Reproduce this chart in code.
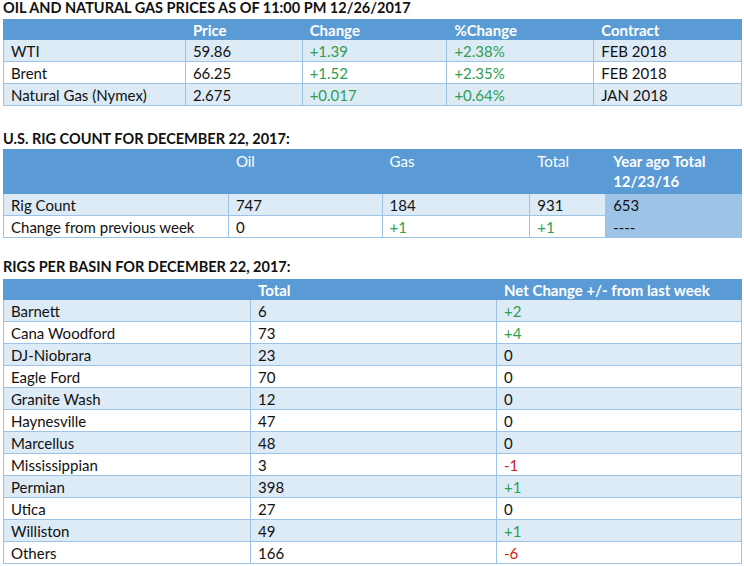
<!DOCTYPE html>
<html><head><meta charset="utf-8">
<script src="https://cdn.jsdelivr.net/npm/chart.js@4"></script>
<style>
body{margin:0;background:#fff;font-family:Lato,"Open Sans","Liberation Sans",sans-serif;width:744px;height:566px;overflow:hidden;position:relative}
.t{position:absolute;left:3px;font-weight:bold;font-size:14.5px;color:#111}
table{position:absolute;left:3px;border-collapse:collapse;font-size:15px;color:#111}
td{border:1px solid #9dc3e6;padding:0 0 0 7px;height:21px;line-height:20px;white-space:nowrap}
th{background:#5b9bd5;color:#fff;text-align:left;font-weight:bold;padding:0 0 0 7px;height:19px;border:1px solid #5b9bd5}
.g{color:#2e9e4f}.r{color:#d02020}
.b td{background:#ddebf7}
</style></head><body>
<div class="t" style="top:-1px">OIL AND NATURAL GAS PRICES AS OF 11:00 PM 12/26/2017</div>
<table id="t1" style="top:19px;width:739px"></table>
<div class="t" style="top:130px">U.S. RIG COUNT FOR DECEMBER 22, 2017:</div>
<table id="t2" style="top:149px;width:739px"></table>
<div class="t" style="top:258px">RIGS PER BASIN FOR DECEMBER 22, 2017:</div>
<table id="t3" style="top:279px;width:739px"></table>
<script>
const priceHeaders=["","Price","Change","%Change","Contract"];
const commodities=["WTI","Brent","Natural Gas (Nymex)"];
const prices=["59.86","66.25","2.675"];
const priceChanges=["+1.39","+1.52","+0.017"];
const pctChanges=["+2.38%","+2.35%","+0.64%"];
const contracts=["FEB 2018","FEB 2018","JAN 2018"];
const rigHeaders=["","Oil","Gas","Total","Year ago Total 12/23/16"];
const rigRows=["Rig Count","Change from previous week"];
const rigOil=["747","0"],rigGas=["184","+1"],rigTotal=["931","+1"],rigYearAgo=["653","----"];
const basins=["Barnett","Cana Woodford","DJ-Niobrara","Eagle Ford","Granite Wash","Haynesville","Marcellus","Mississippian","Permian","Utica","Williston","Others"];
const basinTotals=[6,73,23,70,12,47,48,3,398,27,49,166];
const basinChanges=[2,4,0,0,0,0,0,-1,1,0,1,-6];
const cls=v=>String(v).startsWith("+")?"g":(String(v).startsWith("-")&&v!=="----"?"r":"");
const w1=[182,117,145,147,148];
let h='<tr>'+priceHeaders.map((x,i)=>`<th style="width:${w1[i]-8}px">${x}</th>`).join('')+'</tr>';
commodities.forEach((c,i)=>{h+=`<tr class="${i%2==0?'b':''}"><td>${c}</td><td>${prices[i]}</td><td class="g">${priceChanges[i]}</td><td class="g">${pctChanges[i]}</td><td>${contracts[i]}</td></tr>`});
document.getElementById('t1').innerHTML=h;
const w2=[225,154,148,76,136];
h='<tr>'+rigHeaders.map((x,i)=>`<th style="width:${w2[i]-8}px;height:42px;vertical-align:top;line-height:20px;padding-top:1px;font-weight:${i==4?'bold':'normal'};white-space:normal">${x}</th>`).join('')+'</tr>';
rigRows.forEach((r,i)=>{h+=`<tr class="${i==0?'b':''}"><td>${r}</td><td>${rigOil[i]}</td><td class="${cls(rigGas[i])}">${rigGas[i]}</td><td class="${cls(rigTotal[i])}">${rigTotal[i]}</td><td style="background:#9dc3e6">${rigYearAgo[i]}</td></tr>`});
document.getElementById('t2').innerHTML=h;
h='<tr><th style="width:239px"></th><th style="width:238px">Total</th><th>Net Change +/- from last week</th></tr>';
basins.forEach((b,i)=>{const c=basinChanges[i];const s=c>0?'+'+c:String(c);h+=`<tr class="${i%2==0?'b':''}"><td>${b}</td><td>${basinTotals[i]}</td><td class="${c>0?'g':c<0?'r':''}">${s}</td></tr>`});
document.getElementById('t3').innerHTML=h;
</script>
</body></html>
